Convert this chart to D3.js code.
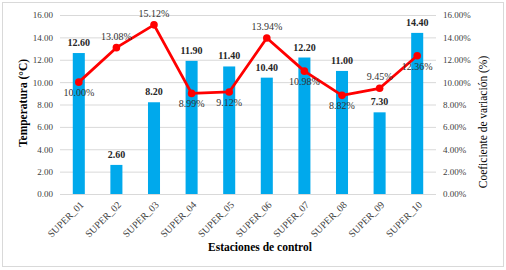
<!DOCTYPE html>
<html><head><meta charset="utf-8">
<script src="https://cdn.jsdelivr.net/npm/d3@7"></script>
<style>body{margin:0;background:#fff}svg{display:block}svg text{font-family:"Liberation Serif","Times New Roman",serif !important}</style>
</head><body>
<svg id="c" width="506" height="270"></svg>
<script>
const categories = ["SUPER_01","SUPER_02","SUPER_03","SUPER_04","SUPER_05","SUPER_06","SUPER_07","SUPER_08","SUPER_09","SUPER_10"];
const temperatura = [12.60, 2.60, 8.20, 11.90, 11.40, 10.40, 12.20, 11.00, 7.30, 14.40];
const coefVar = [10.00, 13.08, 15.12, 8.99, 9.12, 13.94, 10.98, 8.82, 9.45, 12.36];
const cvLabelPos = ["below","above","above","below","below","above","below","below","above","below"];
const leftTicks = [0,2,4,6,8,10,12,14,16];
const rightTicks = [0,2,4,6,8,10,12,14,16];

const svg = d3.select("#c");
const m = {l:60, r:436, t:15, b:194};
svg.append("rect").attr("x",2.5).attr("y",2.5).attr("width",501).attr("height",264)
  .attr("fill","#fff").attr("stroke","#d9d9d9");

const x = d3.scaleBand().domain(categories).range([m.l, m.r]).paddingInner(0.68).paddingOuter(0.34);
const yL = d3.scaleLinear().domain([0,16]).range([m.b, m.t]);
const yR = d3.scaleLinear().domain([0,16]).range([m.b, m.t]);

// gridlines
svg.append("g").selectAll("line").data(leftTicks).join("line")
  .attr("x1",m.l).attr("x2",m.r).attr("y1",d=>yL(d)+0.5).attr("y2",d=>yL(d)+0.5)
  .attr("stroke","#d9d9d9").attr("stroke-width",1);

// left axis
const gl = svg.append("g").attr("transform",`translate(${m.l},0)`)
  .call(d3.axisLeft(yL).tickValues(leftTicks).tickFormat(d3.format(".2f")).tickSize(0).tickPadding(7));
gl.select(".domain").remove();
gl.selectAll("text").attr("font-size",9).attr("fill","#404040");

// right axis
const gr = svg.append("g").attr("transform",`translate(${m.r},0)`)
  .call(d3.axisRight(yR).tickValues(rightTicks).tickFormat(d=>d3.format(".2f")(d)+"%").tickSize(0).tickPadding(7));
gr.select(".domain").remove();
gr.selectAll("text").attr("font-size",9).attr("fill","#404040");

// bars
svg.append("g").selectAll("rect").data(temperatura).join("rect")
  .attr("x",(d,i)=>x(categories[i])).attr("width",x.bandwidth())
  .attr("y",d=>yL(d)).attr("height",d=>yL(0)-yL(d)).attr("fill","#00A9EC");

// bottom axis line
svg.append("line").attr("x1",m.l).attr("x2",m.r).attr("y1",m.b+0.5).attr("y2",m.b+0.5).attr("stroke","#d9d9d9");

// bar labels
svg.append("g").selectAll("text").data(temperatura).join("text")
  .attr("x",(d,i)=>x(categories[i])+x.bandwidth()/2).attr("y",d=>yL(d)-7)
  .attr("text-anchor","middle").attr("font-size",10).attr("font-weight","bold").attr("fill","#262626")
  .text(d=>d3.format(".2f")(d));

// line
const cx = (i)=>x(categories[i])+x.bandwidth()/2;
svg.append("path").datum(coefVar)
  .attr("d",d3.line().x((d,i)=>cx(i)).y(d=>yR(d)))
  .attr("fill","none").attr("stroke","#FF0000").attr("stroke-width",2.8).attr("stroke-linejoin","round");
svg.append("g").selectAll("circle").data(coefVar).join("circle")
  .attr("cx",(d,i)=>cx(i)).attr("cy",d=>yR(d)).attr("r",3.8).attr("fill","#FF0000");

// line labels
svg.append("g").selectAll("text").data(coefVar).join("text")
  .attr("x",(d,i)=>cx(i)).attr("y",(d,i)=>cvLabelPos[i]==="above"? yR(d)-8 : yR(d)+14)
  .attr("text-anchor","middle").attr("font-size",10).attr("fill","#333333")
  .text(d=>d3.format(".2f")(d)+"%");

// x labels
svg.append("g").selectAll("text").data(categories).join("text")
  .attr("transform",(d,i)=>`translate(${cx(i)+3},${m.b+9}) rotate(-45)`)
  .attr("text-anchor","end").attr("dy","0.35em").attr("font-size",10).attr("fill","#404040")
  .text(d=>d);

// axis titles
svg.append("text").attr("x",260).attr("y",251).attr("text-anchor","middle")
  .attr("font-size",11.5).attr("font-weight","bold").attr("fill","#000").text("Estaciones de control");
svg.append("text").attr("transform","translate(27,103) rotate(-90)").attr("text-anchor","middle")
  .attr("font-size",11.5).attr("font-weight","bold").attr("fill","#000").text("Temperatura (°C)");
svg.append("text").attr("transform","translate(487,122) rotate(-90)").attr("text-anchor","middle")
  .attr("font-size",11.5).attr("fill","#000").text("Coeficiente de variación (%)");
</script>
</body></html>
